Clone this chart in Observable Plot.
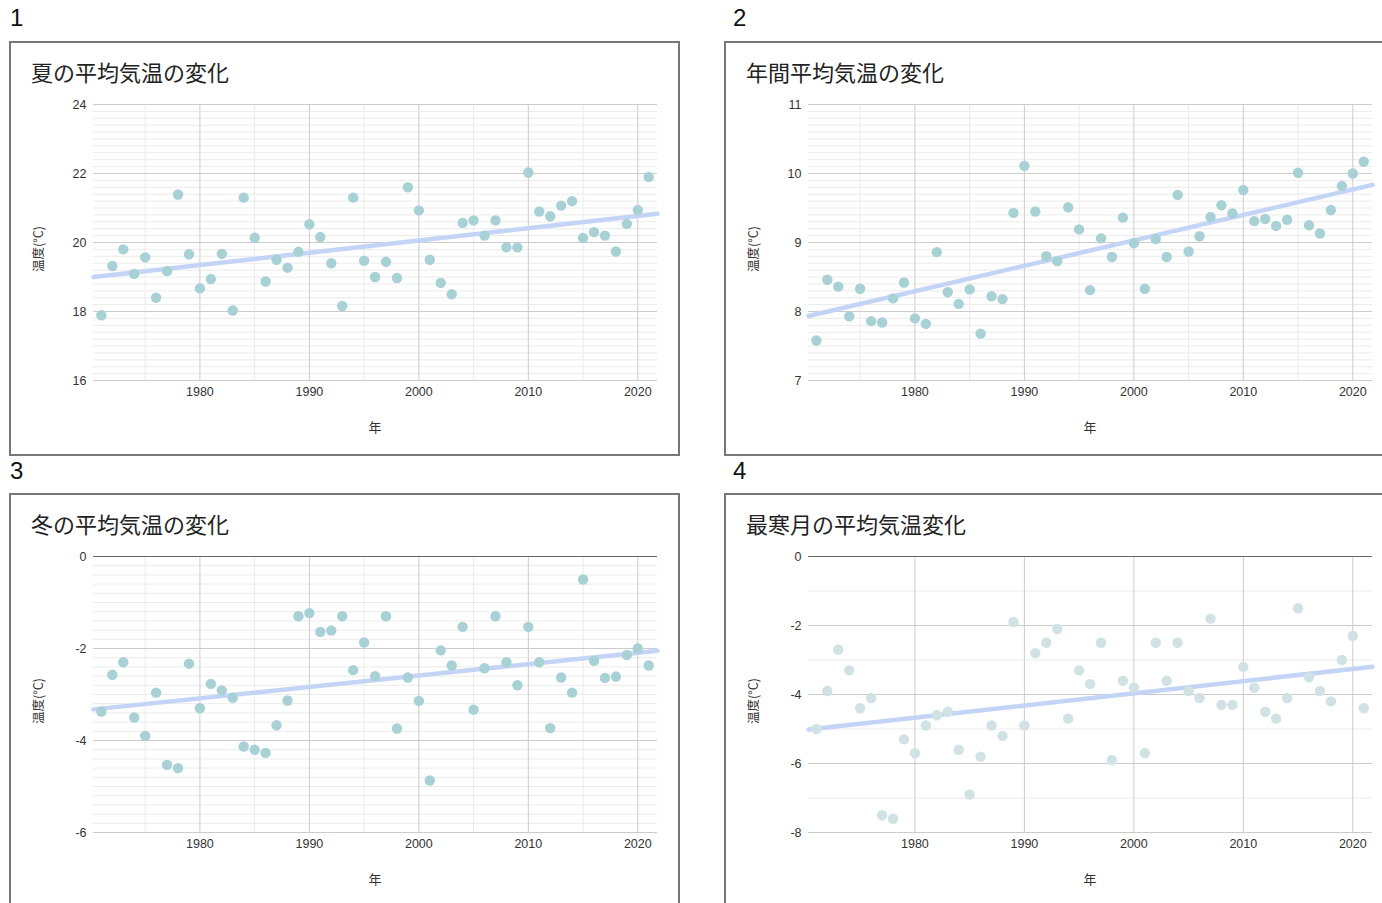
<!DOCTYPE html>
<html><head><meta charset="utf-8">
<script src="https://cdn.jsdelivr.net/npm/d3@7"></script>
<script src="https://cdn.jsdelivr.net/npm/@observablehq/plot@0.6"></script>
<style>
html,body{margin:0;padding:0;background:#fff;width:1382px;height:903px;overflow:hidden;font-family:"Liberation Sans",Arial,sans-serif;}
.num{position:absolute;font-family:"Liberation Sans",Arial,sans-serif;font-size:24px;line-height:24px;color:#111;}
.box{position:absolute;width:671px;height:415px;border:2px solid #777;box-sizing:border-box;background:#fff;}
.title{position:absolute;left:20px;top:13px;font-family:"Noto Sans CJK JP",sans-serif;font-size:22px;line-height:30px;color:#222;white-space:nowrap;}
.ytitle{position:absolute;left:26px;top:206px;width:0;height:0;}
.ytitle span{position:absolute;transform:translate(-50%,-50%) rotate(-90deg);font-family:"Noto Sans CJK JP",sans-serif;font-size:12.5px;color:#333;white-space:nowrap;}
.xtitle{position:absolute;left:364px;top:383px;width:0;height:0;}
.xtitle span{position:absolute;transform:translate(-50%,-50%);font-family:"Noto Sans CJK JP",sans-serif;font-size:13px;color:#333;white-space:nowrap;}
.chart{position:absolute;left:0;top:43px;}
</style>
</head><body>
<div class="num" style="left:10px;top:6px">1</div>
<div class="num" style="left:733px;top:6px">2</div>
<div class="num" style="left:10px;top:459px">3</div>
<div class="num" style="left:733px;top:459px">4</div>
<div id="p1" class="box" style="left:9px;top:41px"></div>
<div id="p2" class="box" style="left:724px;top:41px"></div>
<div id="p3" class="box" style="left:9px;top:493px"></div>
<div id="p4" class="box" style="left:724px;top:493px"></div>
<script>
const years = d3.range(1971, 2022);
const summer = [17.89,19.32,19.80,19.09,19.57,18.40,19.17,21.39,19.66,18.67,18.94,19.67,18.03,21.30,20.14,18.87,19.50,19.27,19.73,20.53,20.16,19.40,18.16,21.30,19.47,19.00,19.44,18.97,21.60,20.93,19.50,18.83,18.50,20.57,20.64,20.20,20.64,19.86,19.86,22.03,20.90,20.76,21.07,21.20,20.13,20.30,20.20,19.74,20.54,20.94,21.90];
const annual = [7.58,8.46,8.36,7.93,8.33,7.86,7.84,8.19,8.42,7.90,7.82,8.86,8.28,8.11,8.32,7.68,8.22,8.18,9.43,10.11,9.45,8.80,8.73,9.51,9.19,8.31,9.06,8.79,9.36,8.99,8.33,9.05,8.79,9.69,8.87,9.09,9.37,9.54,9.42,9.76,9.31,9.34,9.24,9.33,10.01,9.25,9.13,9.47,9.82,10.00,10.17];
const winter = [-3.37,-2.57,-2.30,-3.50,-3.90,-2.96,-4.53,-4.60,-2.33,-3.30,-2.77,-2.91,-3.07,-4.13,-4.20,-4.27,-3.67,-3.13,-1.30,-1.23,-1.64,-1.61,-1.30,-2.47,-1.87,-2.60,-1.30,-3.74,-2.63,-3.14,-4.87,-2.04,-2.37,-1.53,-3.33,-2.43,-1.30,-2.30,-2.80,-1.53,-2.30,-3.73,-2.63,-2.96,-0.50,-2.27,-2.64,-2.61,-2.14,-2.00,-2.37];
const coldest = [-5.0,-3.9,-2.7,-3.3,-4.4,-4.1,-7.5,-7.6,-5.3,-5.7,-4.9,-4.6,-4.5,-5.6,-6.9,-5.8,-4.9,-5.2,-1.9,-4.9,-2.8,-2.5,-2.1,-4.7,-3.3,-3.7,-2.5,-5.9,-3.6,-3.8,-5.7,-2.5,-3.6,-2.5,-3.9,-4.1,-1.8,-4.3,-4.3,-3.2,-3.8,-4.5,-4.7,-4.1,-1.5,-3.5,-3.9,-4.2,-3.0,-2.3,-4.4];

const titles = ["夏の平均気温の変化","年間平均気温の変化","冬の平均気温の変化","最寒月の平均気温変化"];
const xTicks = [1980,1990,2000,2010,2020];
const xMinorTicks = [1975,1985,1995,2005,2015];
const xDomain = [1970.28, 2021.8];
const yTitle = "温度(°C)";
const xTitle = "年";

const yTicks1 = [16,18,20,22,24];
const yTicks2 = [7,8,9,10,11];
const yTicks3 = [-6,-4,-2,0];
const yTicks4 = [-8,-6,-4,-2,0];

const dotColor = "#a8d1d6";
const dotColorLight = "#d0e2e3";
const trendColor = "#c4d4f6";

function panel(id, title, values, domain, ticks, minorStep, xMinor, color, zeroLine) {
  const box = document.getElementById(id);
  const t = document.createElement("div"); t.className = "title"; t.textContent = title; box.appendChild(t);
  const yt = document.createElement("div"); yt.className = "ytitle"; yt.innerHTML = "<span></span>"; yt.firstChild.textContent = yTitle; box.appendChild(yt);
  const xt = document.createElement("div"); xt.className = "xtitle"; xt.innerHTML = "<span></span>"; xt.firstChild.textContent = xTitle; box.appendChild(xt);

  const data = years.map((y, i) => ({year: y, v: values[i]}));
  const mx = d3.mean(years), my = d3.mean(values);
  const slope = d3.sum(years, (x, i) => (x - mx) * (values[i] - my)) / d3.sum(years, x => (x - mx) ** 2);
  const trend = xDomain.map(x => ({year: x, v: my + slope * (x - mx)}));
  const minorY = d3.range(domain[0], domain[1] + 1e-9, minorStep).map(d => +d.toFixed(3)).filter(d => !ticks.includes(d));

  const marks = [
    Plot.ruleY(minorY, {stroke: "#ebebeb", strokeWidth: 1}),
    Plot.ruleX(xMinor, {stroke: "#ebebeb", strokeWidth: 1}),
    Plot.ruleY(ticks, {stroke: "#cccccc", strokeWidth: 1}),
    Plot.ruleX(xTicks, {stroke: "#cccccc", strokeWidth: 1})
  ];
  if (zeroLine) marks.push(Plot.ruleY([0], {stroke: "#666", strokeWidth: 1.2}));
  marks.push(Plot.line(trend, {x: "year", y: "v", stroke: trendColor, strokeWidth: 4.5}));
  marks.push(Plot.dot(data, {x: "year", y: "v", r: 5.2, fill: color}));

  const chart = Plot.plot({
    width: 667, height: 360,
    marginLeft: 82, marginRight: 21, marginTop: 18, marginBottom: 66,
    style: {fontFamily: "'Liberation Sans', Arial, sans-serif", fontSize: "12.5px", color: "#333", background: "transparent", overflow: "visible"},
    x: {domain: xDomain, ticks: xTicks, tickFormat: d => String(d), tickSize: 0, tickPadding: 7, label: null},
    y: {domain: domain, ticks: ticks, tickFormat: d => String(d), tickSize: 0, tickPadding: 7, label: null},
    marks
  });
  chart.classList.add("chart");
  box.appendChild(chart);
}

panel("p1", titles[0], summer, [16, 24], yTicks1, 0.2, xMinorTicks, dotColor, false);
panel("p2", titles[1], annual, [7, 11], yTicks2, 0.1, xMinorTicks, dotColor, false);
panel("p3", titles[2], winter, [-6, 0], yTicks3, 0.2, xMinorTicks, dotColor, true);
panel("p4", titles[3], coldest, [-8, 0], yTicks4, 1, [], dotColorLight, true);
</script>
</body></html>
